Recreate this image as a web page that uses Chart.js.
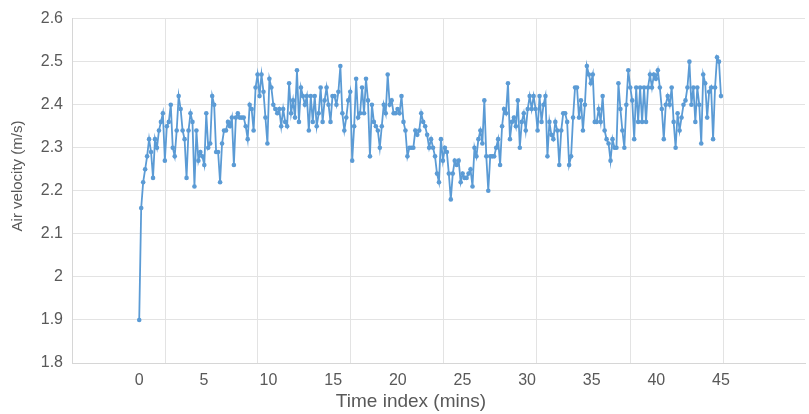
<!DOCTYPE html>
<html>
<head>
<meta charset="utf-8">
<script src="https://cdn.jsdelivr.net/npm/chart.js@4.4.0/dist/chart.umd.min.js"></script>
<style>
html, body { margin: 0; padding: 0; background: #fff; }
#wrap { width: 809px; height: 414px; }
</style>
</head>
<body>
<div id="wrap"><canvas id="velocityCanvas" width="809" height="414"></canvas></div>
<script>
// air velocity readings (m/s) left to right
var airVelocity = [
	1.90, 2.16, 2.22, 2.25, 2.28, 2.32, 2.29, 2.23, 2.32, 2.30, 2.34, 2.36, 2.38, 2.27, 2.35, 2.36, 2.40, 2.30, 2.28, 2.34, 2.42, 2.39, 2.34, 2.32, 2.23, 2.34, 2.38, 2.36, 2.21, 2.34, 2.27, 2.29,
	2.28, 2.26, 2.38, 2.30, 2.31, 2.42, 2.40, 2.29, 2.29, 2.22, 2.31, 2.34, 2.34, 2.36, 2.35, 2.37, 2.26, 2.37, 2.38, 2.37, 2.37, 2.37, 2.35, 2.32, 2.40, 2.39, 2.34, 2.44, 2.47, 2.42,
	2.47, 2.43, 2.37, 2.31, 2.46, 2.44, 2.40, 2.39, 2.38, 2.39, 2.35, 2.39, 2.36, 2.35, 2.45, 2.38, 2.41, 2.37, 2.48, 2.36, 2.44, 2.42, 2.40, 2.42, 2.34, 2.42, 2.36, 2.42, 2.35, 2.38, 2.44, 2.36, 2.41,
	2.44, 2.40, 2.36, 2.42, 2.42, 2.40, 2.43, 2.49, 2.38, 2.34, 2.37, 2.41, 2.43, 2.27, 2.35, 2.46, 2.37, 2.38, 2.44, 2.38, 2.46, 2.41, 2.28, 2.40, 2.36, 2.35, 2.34, 2.30, 2.35, 2.40, 2.38, 2.47,
	2.40, 2.41, 2.38, 2.38, 2.39, 2.38, 2.42, 2.36, 2.34, 2.28, 2.30, 2.30, 2.30, 2.34, 2.33, 2.34, 2.38, 2.36, 2.35, 2.33, 2.30, 2.32, 2.30, 2.28, 2.24, 2.22, 2.32, 2.27, 2.30, 2.29, 2.24, 2.18, 2.24, 2.27,
	2.26, 2.27, 2.22, 2.24, 2.23, 2.23, 2.24, 2.25, 2.21, 2.30, 2.28, 2.32, 2.34, 2.31, 2.41, 2.28, 2.20, 2.28, 2.28, 2.28, 2.30, 2.32, 2.26, 2.35, 2.39, 2.38, 2.45, 2.32, 2.36, 2.37, 2.35, 2.41, 2.30, 2.36,
	2.38, 2.34, 2.39, 2.42, 2.39, 2.42, 2.39, 2.34, 2.42, 2.36, 2.40, 2.42, 2.28, 2.36, 2.33, 2.32, 2.36, 2.34, 2.26, 2.34, 2.38, 2.38, 2.36, 2.26, 2.28, 2.37, 2.44, 2.44, 2.37, 2.41, 2.34, 2.40, 2.49,
	2.47, 2.45, 2.47, 2.36, 2.36, 2.39, 2.36, 2.42, 2.34, 2.32, 2.31, 2.27, 2.32, 2.30, 2.30, 2.45, 2.39, 2.34, 2.30, 2.40, 2.48, 2.44, 2.41, 2.32, 2.44, 2.36, 2.44, 2.36, 2.44, 2.36, 2.44, 2.47,
	2.44, 2.47, 2.46, 2.48, 2.44, 2.39, 2.32, 2.40, 2.42, 2.40, 2.44, 2.36, 2.30, 2.38, 2.34, 2.37, 2.40, 2.41, 2.44, 2.50, 2.40, 2.44, 2.36, 2.44, 2.40, 2.31, 2.47, 2.45, 2.37, 2.43, 2.44, 2.32, 2.44, 2.51,
	2.50, 2.42
];
var lastMinute = 45;

var xTickValues = [0, 5, 10, 15, 20, 25, 30, 35, 40, 45];
var xGridValues = [2.0, 9.13, 16.37, 23.54, 30.7, 38.02, 45.18];
var yTickValues = [1.8, 1.9, 2.0, 2.1, 2.2, 2.3, 2.4, 2.5, 2.6];

var xTitleText = 'Time index (mins)';
var yTitleText = 'Air velocity (m/s)';

var lineColor = '#5b9bd5';
var textColor = '#595959';
var gridColor = '#e3e3e3';
var fontFamily = 'Liberation Sans, Arial, sans-serif';

// the axis titles in the picture sit a little off the plot centre, so draw them here
var axisTitlePlugin = {
	id: 'axisTitles',
	afterDraw: function (chart) {
		var c = chart.ctx;
		c.save();
		c.fillStyle = textColor;
		c.textAlign = 'center';
		c.textBaseline = 'middle';
		c.font = '19px ' + fontFamily;
		c.fillText(xTitleText, 411, 402);
		c.translate(18, 176);
		c.rotate(-Math.PI / 2);
		c.font = '15px ' + fontFamily;
		c.fillText(yTitleText, 0, 0);
		c.restore();
	}
};

(function () {
	'use strict'

	var sampleMinutes = lastMinute / (airVelocity.length - 1);
	var points = [];
	for (var idx in airVelocity) {
		points.push({ x: idx * sampleMinutes, y: airVelocity[idx] });
	}

	var xAllTicks = xTickValues.concat(xGridValues).sort(function (a, b) { return a - b; });

	var ctx = document.getElementById('velocityCanvas');
	var myChart = new Chart(ctx, {
		type: 'line',
		data: {
			datasets: [{
				label: 'Air velocity',
				data: points,
				borderColor: lineColor,
				backgroundColor: lineColor,
				borderWidth: 1.8,
				pointRadius: 2.3,
				pointBorderWidth: 0,
				pointBackgroundColor: lineColor,
				tension: 0,
				fill: false
			}]
		},
		options: {
			responsive: false,
			animation: false,
			layout: { padding: { top: 15, right: 1, left: 0, bottom: 0 } },
			plugins: { legend: { display: false }, tooltip: { enabled: false } },
			scales: {
				x: {
					type: 'linear',
					min: -5.2,
					max: 51.5,
					afterBuildTicks: function (s) { s.ticks = xAllTicks.map(function (v) { return { value: v }; }); },
					afterFit: function (s) { s.height = 51; },
					ticks: {
						autoSkip: false, maxRotation: 0, padding: 8, color: textColor,
						font: { family: fontFamily, size: 16 },
						callback: function (v) { return xTickValues.indexOf(v) >= 0 ? String(v) : ''; }
					},
					grid: {
						drawTicks: false,
						color: function (c) { return (c.tick && xGridValues.indexOf(c.tick.value) >= 0) ? gridColor : 'rgba(0,0,0,0)'; }
					},
					border: { color: '#d6d6d6' }
				},
				y: {
					min: 1.8,
					max: 2.6,
					afterBuildTicks: function (s) { s.ticks = yTickValues.map(function (v) { return { value: v }; }); },
					afterFit: function (s) { s.width = 72; },
					ticks: {
						padding: 9, color: textColor,
						font: { family: fontFamily, size: 16 },
						callback: function (v) { return String(+v.toFixed(1)); }
					},
					grid: { drawTicks: false, color: gridColor },
					border: { color: '#d6d6d6' }
				}
			}
		},
		plugins: [axisTitlePlugin]
	});
})()
</script>
</body>
</html>
